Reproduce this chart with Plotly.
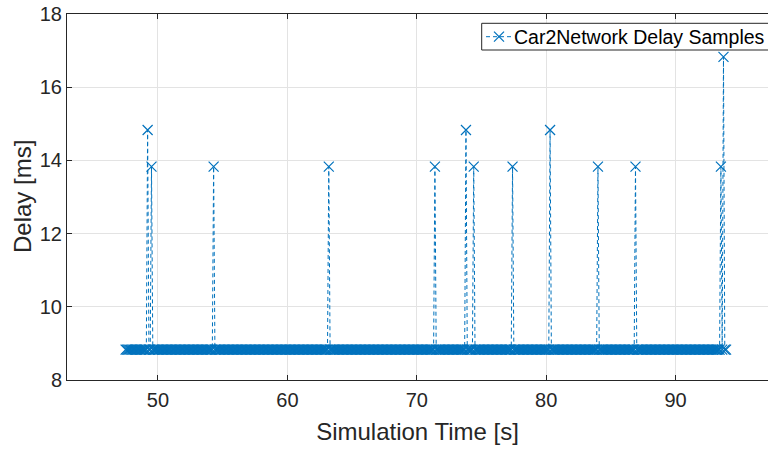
import numpy as np
import plotly.graph_objects as go

# ---- data ----
sample_start_s = 47.5      # first sample time
sample_end_s = 93.9        # last sample time
sample_step_s = 0.1        # sampling interval
baseline_delay_ms = 8.83   # delay of the ordinary samples

spike_times_s = [49.2, 49.5, 54.3, 63.2, 71.4, 73.8, 74.4, 77.4, 80.3, 84.0, 86.9, 93.5, 93.7]
spike_delays_ms = [14.83, 13.83, 13.83, 13.83, 13.83, 14.83, 13.83, 13.83, 14.83, 13.83, 13.83, 13.83, 16.83]

x_ticks = [50, 60, 70, 80, 90]
y_ticks = [8, 10, 12, 14, 16, 18]
series_name = "Car2Network Delay Samples"
x_title = "Simulation Time [s]"
y_title = "Delay [ms]"

# ---- build series ----
n = int(round((sample_end_s - sample_start_s) / sample_step_s)) + 1
times = np.round(sample_start_s + sample_step_s * np.arange(n), 3)
delays = np.full(n, baseline_delay_ms)
for t, d in zip(spike_times_s, spike_delays_ms):
    idx = int(np.argmin(np.abs(times - t)))
    delays[idx] = d

blue = "#0072BD"
axis_col = "#262626"
grid_col = "#e3e3e3"
font_fam = "Liberation Sans, Arial, Helvetica, sans-serif"

W, H = 768, 449
ML, MR, MT, MB = 67, 0, 14, 69
PW, PH = W - ML - MR, H - MT - MB

def px_x(p):  # window px -> paper x
    return (p - ML) / PW

def px_y(p):  # window px -> paper y
    return (H - MB - p) / PH

fig = go.Figure()
fig.add_trace(go.Scatter(
    x=times, y=delays, mode="lines+markers",
    name=series_name, showlegend=False,
    line=dict(color=blue, width=1, dash="4px,3px"),
    marker=dict(symbol="x-thin", size=10, line=dict(color=blue, width=1.2), color=blue),
))

# ---- legend box (MATLAB style, clipped at the right edge) ----
leg_y = px_y(36.7)
shapes = [
    dict(type="rect", xref="paper", yref="paper",
         x0=px_x(481.7), x1=px_x(800), y0=px_y(50), y1=px_y(23.3),
         line=dict(color=axis_col, width=1), fillcolor="white", layer="above"),
    dict(type="line", xref="paper", yref="paper",
         x0=px_x(486), x1=px_x(512), y0=leg_y, y1=leg_y,
         line=dict(color=blue, width=1, dash="4px,3px"), layer="above"),
    dict(type="line", xref="paper", yref="paper", xsizemode="pixel", ysizemode="pixel",
         xanchor=px_x(499), yanchor=leg_y, x0=-5, x1=5, y0=-5, y1=5,
         line=dict(color=blue, width=1.2), layer="above"),
    dict(type="line", xref="paper", yref="paper", xsizemode="pixel", ysizemode="pixel",
         xanchor=px_x(499), yanchor=leg_y, x0=-5, x1=5, y0=5, y1=-5,
         line=dict(color=blue, width=1.2), layer="above"),
]
annotations = [
    dict(text=series_name, xref="paper", yref="paper", x=px_x(511.5), y=leg_y,
         xanchor="left", yanchor="middle", showarrow=False,
         font=dict(size=19.5, color="black", family=font_fam)),
    dict(text=y_title, xref="paper", yref="paper", x=px_x(22), y=0.5,
         xanchor="center", yanchor="middle", textangle=-90, showarrow=False,
         font=dict(size=24, color=axis_col, family=font_fam)),
]

fig.update_layout(
    width=W, height=H,
    margin=dict(l=ML, r=MR, t=MT, b=MB),
    paper_bgcolor="white", plot_bgcolor="white",
    font=dict(family=font_fam, color=axis_col),
    showlegend=False,
    shapes=shapes, annotations=annotations,
)

fig.update_xaxes(
    range=[42.97, 97.14], tickvals=x_ticks, ticktext=[str(v) for v in x_ticks],
    showgrid=True, gridcolor=grid_col, gridwidth=1,
    showline=True, linecolor=axis_col, linewidth=1, mirror="allticks",
    ticks="inside", ticklen=5, tickcolor=axis_col, tickwidth=1,
    tickfont=dict(size=20, color=axis_col), ticklabelstandoff=2,
    ticklabeloverflow="allow",
    zeroline=False, automargin=False,
    title=dict(text=x_title, font=dict(size=24, color=axis_col), standoff=13),
)
fig.update_yaxes(
    range=[8, 18], tickvals=y_ticks, ticktext=[str(v) for v in y_ticks],
    showgrid=True, gridcolor=grid_col, gridwidth=1,
    showline=True, linecolor=axis_col, linewidth=1, mirror=False,
    ticks="inside", ticklen=5, tickcolor=axis_col, tickwidth=1,
    tickfont=dict(size=20, color=axis_col),
    ticklabeloverflow="allow",
    zeroline=False, automargin=False,
)

fig.write_html(
    "out.html",
    config={"displayModeBar": False},
    post_script="document.body.style.margin='0px';"
                "document.documentElement.style.overflow='hidden';",
)
